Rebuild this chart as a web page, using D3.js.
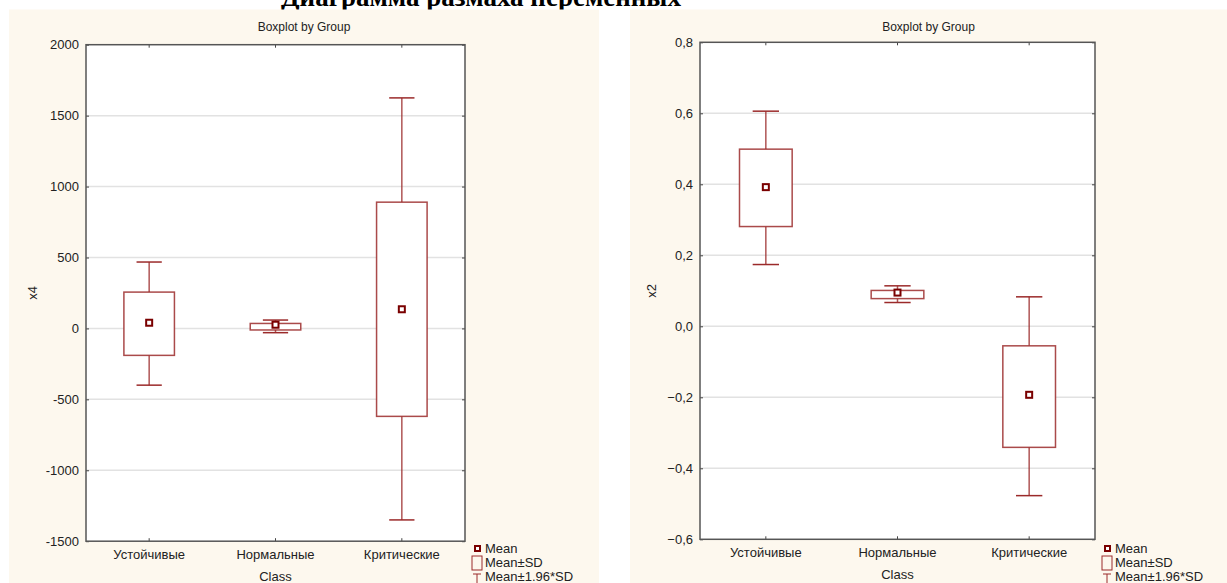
<!DOCTYPE html>
<html>
<head>
<meta charset="utf-8">
<script src="https://cdn.jsdelivr.net/npm/d3@7"></script>
<style>
	body { margin: 0; background: #fff; }
	svg { display: block; font-family: "Liberation Sans", Arial, sans-serif; }
</style>
</head>
<body>
<div id="chart"></div>
<script>
var classes = ['Устойчивые', 'Нормальные', 'Критические'];

// x4: mean, mean+-SD, mean+-1.96*SD
var x4Mean = [40, 26, 135];
var x4SdLow = [-190, -11, -620];
var x4SdHigh = [256, 35, 890];
var x4CiLow = [-400, -30, -1350];
var x4CiHigh = [468, 59, 1625];
var x4Ticks = [-1500, -1000, -500, 0, 500, 1000, 1500, 2000];

// x2
var x2Mean = [0.392, 0.095, -0.193];
var x2SdLow = [0.281, 0.078, -0.341];
var x2SdHigh = [0.499, 0.101, -0.055];
var x2CiLow = [0.174, 0.067, -0.477];
var x2CiHigh = [0.606, 0.114, 0.083];
var x2Ticks = [-0.6, -0.4, -0.2, 0.0, 0.2, 0.4, 0.6, 0.8];

var legendLabels = ['Mean', 'Mean±SD', 'Mean±1.96*SD'];

var width = 1227;
var height = 583;
var boxColor = '#9b2a2a';
var meanColor = '#7a0000';

var svg = d3.select('#chart')
	.append('svg')
	.attr('width', width)
	.attr('height', height);

// big page heading, mostly cut off at the top
svg.append('text')
	.attr('x', 281)
	.attr('y', 6)
	.style('font-family', '"Liberation Serif", "Times New Roman", serif')
	.style('font-weight', 'bold')
	.style('font-size', '27px')
	.text('Диаграмма размаха переменных');

function drawPanel(p){
	var g = svg.append('g');

	g.append('rect')
		.attr('x', p.bgX)
		.attr('y', 9.5)
		.attr('width', p.bgW)
		.attr('height', height - 9.5)
		.attr('fill', '#fdf8ee');

	var x = d3.scaleBand()
		.domain(classes)
		.range([p.left, p.right]);

	var y = d3.scaleLinear()
		.domain([p.ticks[0], p.ticks[p.ticks.length - 1]])
		.range([p.bottom, p.top]);

	g.append('rect')
		.attr('x', p.left)
		.attr('y', p.top)
		.attr('width', p.right - p.left)
		.attr('height', p.bottom - p.top)
		.attr('fill', '#fff');

	// grid
	g.selectAll('.grid')
		.data(p.ticks.slice(1, -1))
		.enter()
		.append('line')
		.attr('x1', p.left)
		.attr('x2', p.right)
		.attr('y1', function(d){ return y(d); })
		.attr('y2', function(d){ return y(d); })
		.attr('stroke', '#e2e2e2')
		.attr('stroke-width', 1.5);

	// axes, ticks pointing inward on all four sides
	g.append('g')
		.attr('transform', 'translate(' + p.left + ',0)')
		.call(d3.axisRight(y).tickValues(p.ticks).tickSize(3).tickFormat(''))
		.call(function(a){ a.select('.domain').remove(); });
	g.append('g')
		.attr('transform', 'translate(' + p.right + ',0)')
		.call(d3.axisLeft(y).tickValues(p.ticks).tickSize(3).tickFormat(''))
		.call(function(a){ a.select('.domain').remove(); });
	g.append('g')
		.attr('transform', 'translate(0,' + p.bottom + ')')
		.call(d3.axisTop(x).tickSize(3).tickFormat(''))
		.call(function(a){ a.select('.domain').remove(); });
	g.append('g')
		.attr('transform', 'translate(0,' + p.top + ')')
		.call(d3.axisBottom(x).tickSize(3).tickFormat(''))
		.call(function(a){ a.select('.domain').remove(); });
	g.selectAll('.tick line').attr('stroke', '#444');

	g.append('rect')
		.attr('x', p.left)
		.attr('y', p.top)
		.attr('width', p.right - p.left)
		.attr('height', p.bottom - p.top)
		.attr('fill', 'none')
		.attr('stroke', '#555')
		.attr('stroke-width', 1.5);

	// tick labels
	g.selectAll('.ylab')
		.data(p.ticks)
		.enter()
		.append('text')
		.attr('x', p.left - 7)
		.attr('y', function(d){ return y(d); })
		.attr('dy', '0.35em')
		.attr('text-anchor', 'end')
		.style('font-size', '13px')
		.attr('fill', '#222')
		.text(p.fmt);

	g.selectAll('.xlab')
		.data(classes)
		.enter()
		.append('text')
		.attr('x', function(d){ return x(d) + x.bandwidth() / 2; })
		.attr('y', p.bottom + 18)
		.attr('text-anchor', 'middle')
		.style('font-size', '13px')
		.attr('fill', '#222')
		.text(function(d){ return d; });

	g.append('text')
		.attr('x', (p.left + p.right) / 2)
		.attr('y', p.bottom + 40)
		.attr('text-anchor', 'middle')
		.style('font-size', '13px')
		.attr('fill', '#222')
		.text('Class');

	g.append('text')
		.attr('transform', 'translate(' + p.yLabX + ',' + ((p.top + p.bottom) / 2) + ') rotate(-90)')
		.attr('text-anchor', 'middle')
		.style('font-size', '13px')
		.attr('fill', '#222')
		.text(p.name);

	g.append('text')
		.attr('x', p.bgX + p.bgW / 2)
		.attr('y', 31)
		.attr('text-anchor', 'middle')
		.style('font-size', '12px')
		.attr('fill', '#222')
		.text('Boxplot by Group');

	// boxes
	var rows = classes.map(function(c, i){
		return {cls: c, mean: p.mean[i], sdLow: p.sdLow[i], sdHigh: p.sdHigh[i], ciLow: p.ciLow[i], ciHigh: p.ciHigh[i]};
	});
	var bw = x.bandwidth() * 0.4;
	var cw = x.bandwidth() * 0.2;

	var box = g.selectAll('.box')
		.data(rows)
		.enter()
		.append('g')
		.attr('transform', function(d){
			return 'translate(' + (x(d.cls) + x.bandwidth() / 2) + ',0)';
		});

	box.append('line')
		.attr('y1', function(d){ return y(d.ciHigh); })
		.attr('y2', function(d){ return y(d.sdHigh); })
		.attr('stroke', boxColor).attr('stroke-width', 1.5).attr('stroke-opacity', 0.8);
	box.append('line')
		.attr('y1', function(d){ return y(d.sdLow); })
		.attr('y2', function(d){ return y(d.ciLow); })
		.attr('stroke', boxColor).attr('stroke-width', 1.5).attr('stroke-opacity', 0.8);
	box.append('line')
		.attr('x1', -cw / 2).attr('x2', cw / 2)
		.attr('y1', function(d){ return y(d.ciHigh); })
		.attr('y2', function(d){ return y(d.ciHigh); })
		.attr('stroke', boxColor).attr('stroke-width', 1.5);
	box.append('line')
		.attr('x1', -cw / 2).attr('x2', cw / 2)
		.attr('y1', function(d){ return y(d.ciLow); })
		.attr('y2', function(d){ return y(d.ciLow); })
		.attr('stroke', boxColor).attr('stroke-width', 1.5);
	box.append('rect')
		.attr('x', -bw / 2)
		.attr('width', bw)
		.attr('y', function(d){ return y(d.sdHigh); })
		.attr('height', function(d){ return y(d.sdLow) - y(d.sdHigh); })
		.attr('fill', '#fff')
		.attr('stroke', boxColor)
		.attr('stroke-width', 1.5)
		.attr('stroke-opacity', 0.85);
	box.append('rect')
		.attr('x', -3)
		.attr('y', function(d){ return y(d.mean) - 3; })
		.attr('width', 6)
		.attr('height', 6)
		.attr('fill', '#fff')
		.attr('stroke', meanColor)
		.attr('stroke-width', 2);

	// legend
	var lx = p.right + 12;
	var legend = g.append('g')
		.attr('transform', 'translate(' + lx + ',0)');
	legend.append('rect')
		.attr('x', -2).attr('y', 546).attr('width', 5).attr('height', 5)
		.attr('fill', '#fff').attr('stroke', meanColor).attr('stroke-width', 2);
	legend.append('rect')
		.attr('x', -5).attr('y', 556).attr('width', 10).attr('height', 14)
		.attr('fill', 'none').attr('stroke', boxColor).attr('stroke-width', 1);
	legend.append('line')
		.attr('x1', -4).attr('x2', 4).attr('y1', 574).attr('y2', 574)
		.attr('stroke', boxColor).attr('stroke-width', 1);
	legend.append('line')
		.attr('x1', 0).attr('x2', 0).attr('y1', 574).attr('y2', 584)
		.attr('stroke', boxColor).attr('stroke-width', 1);
	legend.selectAll('.leg')
		.data(legendLabels)
		.enter()
		.append('text')
		.attr('x', 8)
		.attr('y', function(d, i){ return 553 + i * 14; })
		.style('font-size', '13px')
		.attr('fill', '#222')
		.text(function(d){ return d; });
}

drawPanel({
	name: 'x4', bgX: 9, bgW: 590,
	left: 86, right: 465, top: 44.7, bottom: 541.2, yLabX: 37,
	ticks: x4Ticks, fmt: function(d){ return d; },
	mean: x4Mean, sdLow: x4SdLow, sdHigh: x4SdHigh, ciLow: x4CiLow, ciHigh: x4CiHigh
});

drawPanel({
	name: 'x2', bgX: 630, bgW: 597,
	left: 700, right: 1095, top: 42.3, bottom: 539.3, yLabX: 656,
	ticks: x2Ticks, fmt: function(d){ return d3.format('.1f')(d).replace('.', ','); },
	mean: x2Mean, sdLow: x2SdLow, sdHigh: x2SdHigh, ciLow: x2CiLow, ciHigh: x2CiHigh
});
</script>
</body>
</html>
